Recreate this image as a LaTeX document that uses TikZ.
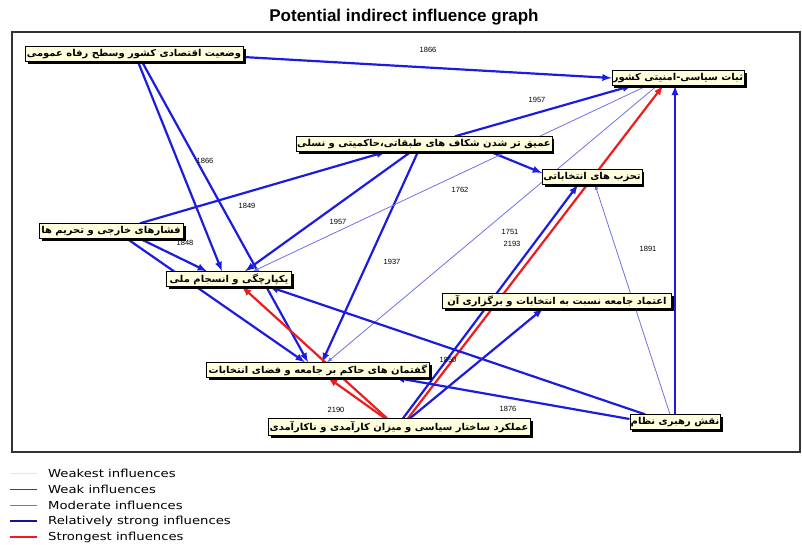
\documentclass[tikz,border=0pt]{standalone}
\usepackage{fontspec}
\usepackage{tikz}
\usetikzlibrary{shadows,backgrounds}
\setmainfont{Liberation Sans}
\newfontfamily\fafont[Script=Arabic,FakeStretch=1.05]{DejaVu Sans Bold}
\newfontfamily\legfont[FakeStretch=1.2]{DejaVu Sans}
\TeXXeTstate=1
\definecolor{cream}{RGB}{255,255,222}
\definecolor{strongblue}{RGB}{28,28,225}
\definecolor{modblue}{RGB}{112,112,228}
\definecolor{strongred}{RGB}{238,28,28}
\definecolor{weakline}{RGB}{70,70,50}
\definecolor{weakestline}{RGB}{230,230,230}
\definecolor{legblue}{RGB}{20,20,150}

\begin{document}
\begin{tikzpicture}[x=1pt,y=-1pt,>=latex,
  var/.style={draw,fill=cream,font=\fafont\fontsize{9.5}{10}\selectfont,inner sep=1pt,minimum height=15pt,
    drop shadow={shadow xshift=2.5pt,shadow yshift=-2.5pt,fill=black,opacity=1}},
  strong/.style={->,draw=strongblue,line width=2.2pt},
  moderate/.style={->,draw=modblue,line width=0.8pt},
  strongest/.style={->,draw=strongred,line width=2.2pt},
  wt/.style={font=\fontsize{7.5}{8}\selectfont,inner sep=0.5pt},
  leg/.style={anchor=west,font=\legfont\fontsize{11}{12}\selectfont,inner sep=0pt}]
\useasboundingbox (0,0) rectangle (802,544);
\node[font=\bfseries\fontsize{17}{19}\selectfont] (title)at(404,17){Potential indirect influence graph};
\draw[line width=1.3pt,black!80] (12,32) rectangle (800,452);

\node[var,minimum width=218pt] (econ)at(134,54){\beginR وضعیت اقتصادی کشور وسطح رفاه عمومی\endR};
\node[var,minimum width=129pt] (stab)at(678,78){\beginR ثبات سیاسی-امنیتی کشور\endR};
\node[var,minimum width=248pt] (gap)at(424,144){\beginR عمیق تر شدن شکاف های طبقاتی،حاکمیتی و نسلی\endR};
\node[var,minimum width=95pt] (party)at(592,177){\beginR تحزب های انتخاباتی\endR};
\node[var,minimum width=144pt] (ext)at(111,231){\beginR فشارهای خارجی و تحریم ها\endR};
\node[var,minimum width=125pt] (unity)at(229,279){\beginR یکپارچگی و انسجام ملی\endR};
\node[var,minimum width=229pt] (trust)at(557,301){\beginR اعتماد جامعه نسبت به انتخابات و برگزاری آن\endR};
\node[var,minimum width=223pt] (disc)at(318,370){\beginR گفتمان های حاکم بر جامعه و فضای انتخابات\endR};
\node[var,minimum width=262pt,minimum height=17pt] (perf)at(399,427){\beginR عملکرد ساختار سیاسی و میزان کارآمدی و ناکارآمدی\endR};
\node[var,minimum width=86pt] (lead)at(675,422){\beginR نقش رهبری نظام\endR};

\begin{scope}[on background layer]
\draw[strong] ([yshift=-3pt]econ.east) -- (stab.west);
\draw[strong] ([xshift=4pt]econ.south) -- ([xshift=-7pt]unity.north);
\draw[strong] ([xshift=8pt]econ.south) -- ([xshift=-10pt]disc.north);
\draw[strong] ([xshift=31pt]gap.north) -- ([xshift=-46pt]stab.south);
\draw[strong] ([xshift=66pt]gap.south) -- ([yshift=4pt]party.west);
\draw[strong] ([xshift=-13pt]gap.south) -- ([xshift=16pt]unity.north);
\draw[strong] ([xshift=-6pt]gap.south) -- ([xshift=4pt]disc.north);
\draw[strong] ([xshift=29pt]ext.north) -- ([xshift=-38pt]gap.south);
\draw[strong] ([xshift=29pt]ext.south) -- ([xshift=-22pt]unity.north);
\draw[strong] ([xshift=16pt]ext.south) -- ([xshift=-13pt]disc.north);
\draw[moderate] ([xshift=-31pt]stab.south) -- ([xshift=24pt]unity.north);
\draw[moderate] ([xshift=-21pt]stab.south) -- ([xshift=9pt]disc.north);
\draw[strong] (lead.north) -- (lead.north |- stab.south);
\draw[moderate] ([xshift=-5pt]lead.north) -- ([xshift=3pt]party.south);
\draw[strong] ([xshift=4pt]perf.north) -- ([xshift=-14pt]party.south);
\draw[strongest] ([xshift=9pt]perf.north) -- ([xshift=-15pt]stab.south);
\draw[strong] ([xshift=11pt]perf.north) -- ([xshift=-14pt]trust.south);
\draw[strongest] ([xshift=-12pt]perf.north) -- ([xshift=13pt]unity.south);
\draw[strongest] ([xshift=-14pt]perf.north) -- ([xshift=10pt]disc.south);
\draw[strong] ([xshift=-30pt]lead.north) -- ([xshift=40pt]unity.south);
\draw[strong] ([yshift=3pt]lead.west) -- ([xshift=77pt]disc.south);
\end{scope}

\node[wt] (l1)at(428,50){1866};
\node[wt] (l2)at(205,161){1866};
\node[wt] (l3)at(247,206){1849};
\node[wt] (l4)at(537,100){1957};
\node[wt] (l5)at(460,190){1762};
\node[wt] (l6)at(185,243){1848};
\node[wt] (l7)at(338,222){1957};
\node[wt] (l8)at(392,262){1937};
\node[wt] (l9)at(510,232){1751};
\node[wt] (l10)at(512,244){2193};
\node[wt] (l11)at(648,249){1891};
\node[wt] (l12)at(448,360){1850};
\node[wt] (l13)at(336,410){2190};
\node[wt] (l14)at(508,409){1876};

\draw[weakestline,line width=1pt] (10,473) -- (37,473);
\draw[weakline,line width=0.8pt] (10,489) -- (37,489);
\draw[modblue,line width=0.8pt] (10,505) -- (37,505);
\draw[legblue,line width=1.8pt] (10,521) -- (37,521);
\draw[strongred,line width=1.8pt] (10,537) -- (37,537);
\node[leg] (g1)at(48,473){Weakest influences};
\node[leg] (g2)at(48,489){Weak influences};
\node[leg] (g3)at(48,505){Moderate influences};
\node[leg] (g4)at(48,521){Relatively strong influences};
\node[leg] (g5)at(48,537){Strongest influences};
\end{tikzpicture}
\end{document}
